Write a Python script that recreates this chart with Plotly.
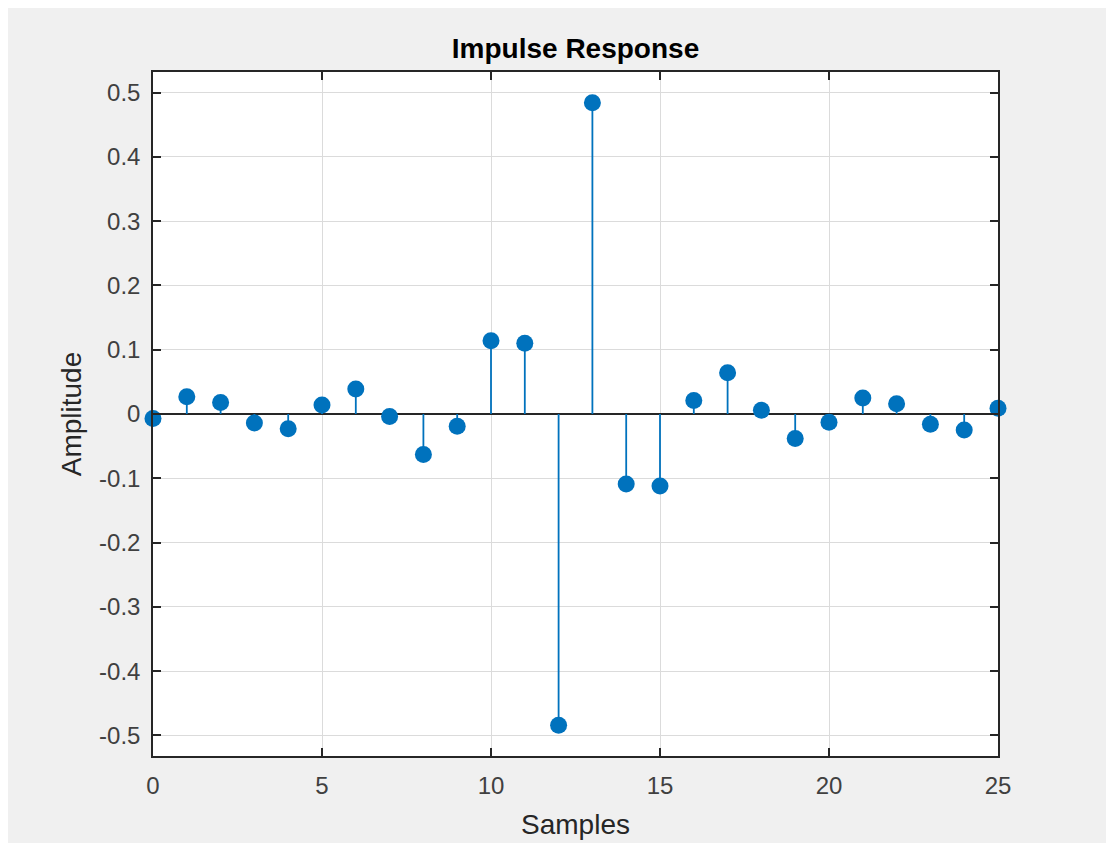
import plotly.graph_objects as go

# Data
samples = list(range(26))
amplitude = [-0.007, 0.027, 0.018, -0.014, -0.023, 0.014, 0.039, -0.004,
             -0.063, -0.019, 0.114, 0.110, -0.484, 0.484, -0.109, -0.112,
             0.021, 0.064, 0.006, -0.038, -0.013, 0.025, 0.016, -0.016,
             -0.025, 0.009]
x_ticks = [0, 5, 10, 15, 20, 25]
y_ticks = [-0.5, -0.4, -0.3, -0.2, -0.1, 0, 0.1, 0.2, 0.3, 0.4, 0.5]
y_tick_text = ["-0.5", "-0.4", "-0.3", "-0.2", "-0.1", "0", "0.1", "0.2", "0.3", "0.4", "0.5"]

BLUE = "#0072BD"
AX = "#262626"
FONT = "Liberation Sans, Arial, sans-serif"

# stems built from the data
stem_x, stem_y = [], []
for xv, yv in zip(samples, amplitude):
    stem_x += [xv, xv, None]
    stem_y += [0, yv, None]

fig = go.Figure()
fig.add_trace(go.Scatter(x=stem_x, y=stem_y, mode="lines",
                         line=dict(color=BLUE, width=1.8),
                         hoverinfo="skip", showlegend=False, cliponaxis=False))
fig.add_trace(go.Scatter(x=samples, y=amplitude, mode="markers",
                         marker=dict(color=BLUE, size=17, line=dict(width=0)),
                         showlegend=False, cliponaxis=False))

fig.update_layout(
    width=1107, height=835,
    margin=dict(l=145, r=117, t=64, b=87),
    paper_bgcolor="#F0F0F0", plot_bgcolor="white",
    font=dict(family=FONT, color=AX),
    title=dict(text="<b>Impulse Response</b>", x=(145 + 990) / 2 / 1107, xanchor="center",
               y=1 - 40 / 835, yanchor="middle", yref="container",
               font=dict(size=28, color="black", family=FONT)),
    showlegend=False,
)
fig.update_xaxes(
    range=[0, 25], tickvals=x_ticks, ticktext=[str(v) for v in x_ticks],
    showgrid=True, gridcolor="#DBDBDB", gridwidth=1,
    showline=True, linecolor=AX, linewidth=1.5, mirror="allticks",
    ticks="inside", ticklen=8, tickwidth=1.5, tickcolor=AX,
    tickfont=dict(size=24, color="#404040"), ticklabelstandoff=7,
    zeroline=False, automargin=False,
    title=dict(text="Samples", font=dict(size=28, color=AX), standoff=17),
)
fig.update_yaxes(
    range=[-0.532, 0.532], tickvals=y_ticks, ticktext=y_tick_text,
    showgrid=True, gridcolor="#DBDBDB", gridwidth=1,
    showline=True, linecolor=AX, linewidth=1.5, mirror="allticks",
    ticks="inside", ticklen=8, tickwidth=1.5, tickcolor=AX,
    tickfont=dict(size=24, color="#404040"), ticklabelstandoff=6,
    zeroline=True, zerolinecolor=AX, zerolinewidth=1.5, automargin=False,
    title=dict(text="Amplitude", font=dict(size=28, color=AX), standoff=9),
)

fig.write_html("out.html")
